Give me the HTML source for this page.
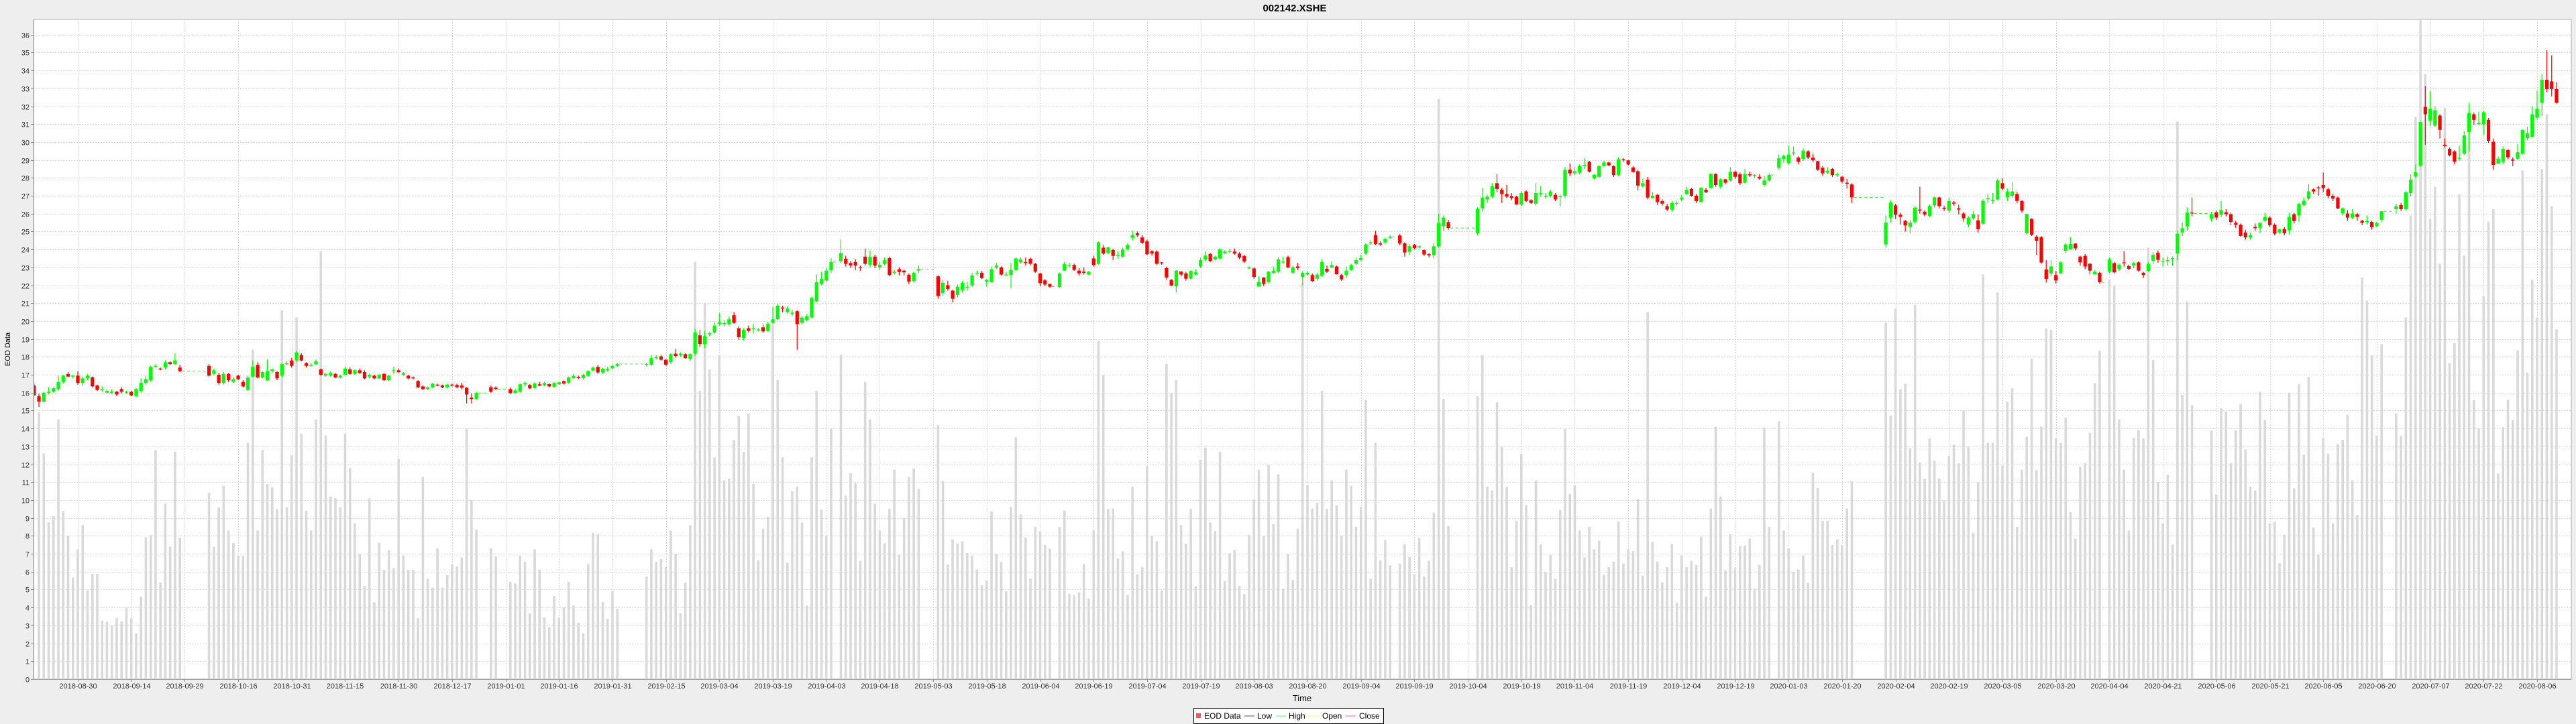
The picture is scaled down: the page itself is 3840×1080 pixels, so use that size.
<!DOCTYPE html>
<html>
<head>
<meta charset="utf-8">
<style>
html,body{margin:0;padding:0;background:#eeeeee;}
svg{display:block;font-family:"Liberation Sans",Arial,sans-serif;}
</style>
</head>
<body>
<svg id="chart" width="3840" height="1080" viewBox="0 0 3840 1080" xmlns="http://www.w3.org/2000/svg">
  <defs><clipPath id="plotClip"><rect x="50" y="29" width="3783" height="984"/></clipPath></defs>
  <rect x="0" y="0" width="3840" height="1080" fill="#eeeeee"/>
  <text x="1930" y="17" text-anchor="middle" font-size="15" font-weight="bold" fill="#000">002142.XSHE</text>
  <rect x="50" y="29" width="3783" height="984" fill="#ffffff" stroke="#b0b0b0" stroke-width="1"/>
  <g id="grid"></g>
  <g id="volumes" clip-path="url(#plotClip)"></g>
  <g id="gaps" clip-path="url(#plotClip)"></g>
  <g id="candles" clip-path="url(#plotClip)"></g>
  <g id="axes"></g>
  <text x="1941" y="1046" text-anchor="middle" font-size="13" fill="#000">Time</text>
  <text x="0" y="0" transform="translate(15,521) rotate(-90)" text-anchor="middle" font-size="11" fill="#000">EOD Data</text>
  <g>
    <rect x="1779.5" y="1056.5" width="283" height="23" fill="#ffffff" stroke="#000" stroke-width="1"/>
    <rect x="1783" y="1064" width="7" height="7" fill="#ff5555"/>
    <text x="1795" y="1072" font-size="12" fill="#000">EOD Data</text>
    <line x1="1855" y1="1068" x2="1870" y2="1068" stroke="#4444ff" stroke-width="1"/>
    <text x="1874" y="1072" font-size="12" fill="#000">Low</text>
    <line x1="1902" y1="1068" x2="1917" y2="1068" stroke="#55ff55" stroke-width="1"/>
    <text x="1921" y="1072" font-size="12" fill="#000">High</text>
    <line x1="1950" y1="1068" x2="1967" y2="1068" stroke="#ffff55" stroke-width="1"/>
    <text x="1971" y="1072" font-size="12" fill="#000">Open</text>
    <line x1="2006" y1="1068" x2="2021" y2="1068" stroke="#ff55ff" stroke-width="1"/>
    <text x="2026" y="1072" font-size="12" fill="#000">Close</text>
  </g>
</svg>
<script>
// ---- data ----
const closedDays = ["2018-10-01","2018-10-02","2018-10-03","2018-10-04","2018-10-05","2018-12-25","2018-12-26","2018-12-31","2019-01-01","2019-02-04","2019-02-05","2019-02-06","2019-02-07","2019-02-08","2019-04-05","2019-05-01","2019-05-02","2019-05-03","2019-06-07","2019-09-13","2019-10-01","2019-10-02","2019-10-03","2019-10-04","2019-10-07","2020-01-01","2020-01-24","2020-01-27","2020-01-28","2020-01-29","2020-01-30","2020-01-31","2020-04-06","2020-05-01","2020-05-04","2020-05-05","2020-06-25","2020-06-26"];
const firstDay = "2018-08-17";
const lastDay = "2020-08-13";
const tickLabels = ["2018-08-30","2018-09-14","2018-09-29","2018-10-16","2018-10-31","2018-11-15","2018-11-30","2018-12-17","2019-01-01","2019-01-16","2019-01-31","2019-02-15","2019-03-04","2019-03-19","2019-04-03","2019-04-18","2019-05-03","2019-05-18","2019-06-04","2019-06-19","2019-07-04","2019-07-19","2019-08-03","2019-08-20","2019-09-04","2019-09-19","2019-10-04","2019-10-19","2019-11-04","2019-11-19","2019-12-04","2019-12-19","2020-01-03","2020-01-20","2020-02-04","2020-02-19","2020-03-05","2020-03-20","2020-04-04","2020-04-21","2020-05-06","2020-05-21","2020-06-05","2020-06-20","2020-07-07","2020-07-22","2020-08-06"];
const yTicks = [0,1,2,3,4,5,6,7,8,9,10,11,12,13,14,15,16,17,18,19,20,21,22,23,24,25,26,27,28,29,30,31,32,33,34,35,36];

const opens = [
16.40,15.80,15.50,16.00,16.05,16.20,16.60,17.05,16.90,16.95,16.55,16.80,16.85,16.40,16.15,16.00,16.00,16.05,16.20,16.00,16.05,15.80,16.10,16.55,16.70,17.45,17.35,17.40,17.70,17.60,
17.40,17.50,17.05,17.00,16.55,17.05,16.60,16.95,16.60,16.15,16.90,17.55,16.85,16.70,17.20,17.15,16.95,17.60,17.80,17.80,18.10,17.65,17.50,17.60,17.30,16.95,16.95,17.05,16.85,17.00,17.30,17.05,17.25,17.15,16.90,16.95,16.80,17.05,16.70,17.20,17.25,17.00,16.95,16.85,16.65,16.35,16.20,16.30,16.45,16.40,16.30,16.45,16.43,16.40,16.28,15.72,15.65,
16.30,16.28,
16.20,15.98,16.05,16.48,16.43,16.26,16.47,16.41,16.48,16.33,16.48,16.64,16.56,16.81,16.87,16.81,16.94,17.24,17.44,17.13,17.24,17.36,17.50,
17.56,17.56,17.93,18.03,17.84,17.70,18.18,18.10,18.15,17.90,18.18,19.20,18.72,19.26,19.36,19.85,19.83,19.83,20.33,19.60,19.06,19.60,19.55,19.50,19.65,19.45,19.90,20.10,20.76,20.50,20.40,20.55,19.90,20.05,20.20,21.10,22.10,22.27,22.85,
23.34,23.48,23.24,23.30,23.00,23.60,23.15,23.60,23.00,23.20,23.52,22.70,22.90,22.82,22.59,22.23,22.82,
22.50,21.56,22.00,21.70,21.46,21.73,21.88,22.00,22.66,22.70,22.20,22.18,23.00,23.00,22.55,22.57,22.86,23.28,23.30,23.48,23.20,22.66,22.27,22.07,
21.90,22.82,23.10,23.13,22.82,22.76,22.60,23.50,23.20,24.10,23.80,23.97,23.64,23.60,24.00,24.65,24.90,24.67,24.45,23.90,23.88,23.28,22.96,22.30,21.94,22.76,22.66,22.37,22.60,23.05,23.44,23.75,23.44,23.50,23.80,23.86,23.88,23.77,23.64,22.94,22.94,21.94,22.43,22.18,22.70,22.76,23.28,23.57,22.70,23.05,22.47,22.60,22.57,22.37,22.53,22.92,23.00,23.05,22.57,22.57,22.86,23.20,23.42,23.77,24.35,24.80,24.34,24.40,24.65,
24.78,24.34,23.87,24.26,24.12,23.97,23.74,23.68,24.18,25.30,25.53,
24.90,26.30,26.80,26.95,27.70,27.34,27.10,26.98,26.95,26.50,27.24,26.75,26.56,27.10,26.95,26.98,27.05,26.95,27.00,28.46,28.25,28.30,28.66,28.90,27.97,28.06,28.66,28.86,28.66,28.16,29.04,28.98,28.58,28.37,27.53,27.90,26.87,27.05,26.70,26.42,26.23,26.56,26.79,27.10,27.38,27.00,26.66,27.34,27.44,28.22,27.50,27.92,27.86,28.34,28.20,27.73,28.20,28.12,28.06,27.60,27.86,
28.56,29.05,28.82,29.38,29.14,29.05,29.48,29.13,28.93,28.56,28.30,28.50,28.16,28.06,27.73,27.63,
24.28,25.78,26.46,25.94,25.59,25.26,25.55,26.23,26.11,25.88,26.46,26.91,26.33,26.17,26.62,26.30,26.01,25.40,25.74,25.63,25.44,26.82,26.71,26.79,27.70,26.91,27.00,27.10,26.71,24.90,25.70,24.72,24.69,22.88,22.66,22.57,22.66,23.93,24.00,24.33,23.60,23.64,23.20,22.62,22.70,
22.76,23.24,22.90,23.28,23.08,23.13,23.28,22.70,22.80,23.37,23.82,23.35,23.35,23.47,23.77,24.95,25.30,26.06,
25.71,26.08,25.94,26.08,25.97,25.49,25.38,24.95,24.67,25.26,25.19,25.61,25.78,25.38,24.95,25.14,25.07,25.97,25.90,26.48,26.84,27.36,27.47,27.60,27.36,27.00,26.90,26.01,26.01,25.78,25.97,25.61,25.54,25.54,25.30,25.66,
26.25,26.48,26.25,27.14,28.09,28.67,31.97,31.20,30.91,31.48,29.85,29.62,29.48,29.07,29.36,30.56,31.55,31.01,31.01,31.24,30.02,28.79,28.89,29.55,29.03,29.07,29.36,30.21,30.30,31.36,32.19,33.48,33.39,32.96];

const closes = [
15.85,15.50,16.00,16.05,16.25,16.60,16.95,16.90,16.95,16.55,16.80,16.95,16.35,16.15,16.20,16.10,16.05,15.90,16.05,16.05,15.85,16.20,16.55,16.75,17.45,17.50,17.30,17.70,17.60,17.80,
17.20,16.95,17.25,16.55,17.05,16.70,16.75,16.75,16.35,16.85,17.45,16.85,17.15,17.20,17.30,16.80,17.60,17.65,17.50,18.25,17.80,17.50,17.55,17.75,17.00,17.05,17.10,16.85,16.95,17.35,17.05,17.25,17.10,16.80,17.00,16.80,17.00,16.70,16.95,17.25,17.15,17.10,16.80,16.80,16.30,16.20,16.30,16.50,16.40,16.30,16.45,16.40,16.30,16.28,15.90,15.65,15.98,
16.05,16.20,
15.98,16.13,16.47,16.54,16.24,16.51,16.40,16.54,16.35,16.54,16.58,16.51,16.85,16.94,16.81,17.00,17.20,17.40,17.13,17.34,17.32,17.50,17.60,
17.60,17.93,17.99,17.84,17.56,18.15,18.05,18.18,17.93,18.15,19.36,18.72,19.16,19.32,19.75,19.94,19.89,20.10,19.90,19.10,19.50,19.45,19.59,19.53,19.42,19.85,20.10,20.86,20.70,20.70,20.47,19.83,20.20,20.27,21.30,22.17,22.35,22.82,23.30,
23.80,23.20,23.10,23.10,22.97,23.20,23.60,23.10,23.15,23.40,22.57,22.76,22.74,22.72,22.20,22.70,22.90,
21.40,22.14,21.80,21.25,21.92,22.14,21.92,22.55,22.70,22.40,22.30,22.90,23.10,22.60,22.60,22.86,23.50,23.44,23.24,23.20,22.76,22.12,22.04,21.92,
22.66,23.20,23.13,22.86,22.66,22.70,22.76,23.13,24.40,23.77,24.12,23.64,23.68,23.99,24.26,24.80,24.80,24.38,23.73,23.77,23.20,23.24,22.43,21.98,22.82,22.60,22.37,22.80,22.72,23.40,23.66,23.36,23.60,24.00,23.88,23.90,23.77,23.54,23.32,23.00,22.47,22.18,22.08,22.76,22.80,23.44,23.32,23.00,23.00,22.96,22.70,22.70,22.24,22.60,23.30,22.76,23.13,22.62,22.33,22.82,23.13,23.40,23.52,24.28,24.40,24.30,24.28,24.60,24.70,
24.34,23.83,24.18,24.07,24.18,23.72,23.68,24.18,25.48,25.78,25.20,
26.27,26.90,26.95,27.53,27.38,27.10,26.95,26.87,26.52,27.15,26.71,26.60,27.15,27.15,26.98,27.24,26.80,26.98,28.44,28.25,28.37,28.66,28.72,28.35,28.18,28.66,28.86,28.70,28.16,29.04,29.00,28.75,28.33,27.57,27.70,26.90,27.00,26.66,26.56,26.23,26.60,26.60,26.90,27.34,27.00,26.70,27.44,27.20,28.22,27.60,27.92,27.73,28.34,28.06,27.70,28.20,28.14,28.16,27.96,27.86,28.16,
29.09,29.23,29.30,29.42,28.90,29.52,29.14,28.99,28.46,28.25,28.40,28.16,28.20,27.80,27.67,26.91,
25.50,26.62,25.94,25.82,25.34,25.50,26.33,26.17,25.94,26.42,26.91,26.42,26.27,26.71,26.56,26.23,25.74,25.78,25.98,25.13,26.71,26.86,26.75,27.86,27.40,27.24,27.24,26.71,26.17,25.98,24.82,24.48,23.27,22.36,23.05,22.27,23.28,24.28,24.30,24.06,23.28,23.05,22.82,22.76,22.17,
23.44,22.72,23.15,23.24,22.92,23.24,22.82,22.57,23.20,23.70,23.42,23.37,23.40,23.52,24.88,25.19,26.06,26.01,
25.97,25.78,26.20,25.97,25.54,25.38,24.76,24.67,24.79,25.19,25.49,25.82,25.35,24.88,25.14,24.90,25.82,25.59,26.55,26.72,27.24,27.24,27.43,27.43,27.00,26.84,26.30,26.30,25.78,26.01,25.82,25.49,25.59,25.24,25.49,26.13,
26.41,26.25,27.19,27.90,28.32,31.12,31.55,31.86,31.78,30.68,29.78,29.26,28.91,29.12,30.37,31.62,31.24,31.08,31.67,30.07,28.72,29.07,29.62,29.15,28.96,29.43,30.68,30.49,31.55,31.86,33.48,32.96,32.96,32.19];

const highs = [
16.50,15.95,16.05,16.30,16.30,16.95,17.00,17.15,17.00,17.20,16.90,17.05,16.90,16.45,16.35,16.20,16.20,16.10,16.30,16.10,16.10,16.25,16.80,16.95,17.50,17.60,17.40,17.80,17.75,18.20,
17.55,17.60,17.35,17.10,17.15,17.10,16.85,17.00,16.70,16.95,17.80,17.70,17.20,17.85,17.35,17.20,17.65,17.75,17.95,18.35,18.20,17.70,17.65,17.85,17.35,17.10,17.20,17.10,17.00,17.45,17.40,17.30,17.35,17.25,17.05,17.00,17.05,17.10,17.00,17.45,17.35,17.15,17.00,16.90,16.70,16.40,16.35,16.55,16.50,16.45,16.50,16.50,16.50,16.55,16.30,15.95,16.05,
16.40,16.35,
16.30,16.20,16.52,16.62,16.48,16.58,16.60,16.60,16.52,16.60,16.62,16.68,16.90,17.05,16.95,17.05,17.25,17.45,17.55,17.38,17.45,17.55,17.68,
17.65,18.10,18.10,18.10,17.88,18.20,18.45,18.25,18.20,18.20,19.55,19.50,19.45,19.40,19.95,20.45,20.05,20.25,20.50,19.70,19.60,19.75,19.85,19.62,19.80,19.95,20.80,20.95,20.85,20.85,20.62,20.60,20.30,20.40,21.35,22.60,22.75,22.95,23.50,
24.55,23.65,23.35,23.45,23.10,24.05,23.95,23.70,23.30,23.55,23.60,22.85,23.00,22.88,22.65,22.75,23.10,
22.55,22.30,22.25,21.75,22.05,22.25,22.20,22.70,22.82,22.80,22.35,23.05,23.25,23.05,22.75,23.25,23.55,23.55,23.55,23.55,23.25,22.70,22.35,22.10,
22.70,23.30,23.25,23.20,22.95,23.00,22.80,23.65,24.45,24.25,24.15,24.05,23.90,24.10,24.35,25.05,25.00,24.80,24.55,23.95,23.95,23.30,23.05,22.35,22.85,22.80,22.75,22.85,22.90,23.55,23.90,23.80,23.65,24.05,23.95,24.05,24.05,23.85,23.70,23.05,23.00,22.50,22.45,22.80,23.05,23.55,23.60,23.65,23.10,23.25,22.80,22.80,22.65,22.70,23.45,23.10,23.35,23.10,22.65,23.05,23.20,23.55,23.70,24.35,24.50,25.05,24.45,24.65,24.80,
24.85,24.40,24.30,24.30,24.25,24.00,23.80,24.35,26.00,25.90,25.65,
26.35,27.45,27.05,27.70,28.20,27.45,27.60,27.15,27.00,27.25,27.30,26.80,27.70,27.55,27.15,27.35,27.15,27.05,28.60,28.80,28.60,28.75,29.10,28.95,28.20,28.70,28.95,28.90,28.70,29.15,29.10,29.00,28.65,28.45,27.95,28.05,27.20,27.10,26.80,26.55,26.70,26.70,27.05,27.50,27.45,27.10,27.50,27.45,28.25,28.25,28.00,27.95,28.60,28.40,28.30,28.50,28.35,28.20,28.20,28.10,28.25,
29.30,29.30,29.80,29.75,29.20,29.65,29.55,29.35,28.95,28.65,28.60,28.55,28.30,28.10,27.95,27.70,
25.90,26.75,26.55,26.05,25.65,25.65,26.40,27.50,26.20,26.50,26.95,26.95,26.45,26.90,26.70,26.50,26.10,25.85,26.15,25.95,26.80,27.10,27.15,27.95,28.00,27.40,27.75,27.20,26.75,26.00,25.75,24.80,24.75,23.40,23.40,22.80,23.35,24.35,24.70,24.35,23.65,23.75,23.25,22.85,22.75,
23.55,23.30,23.20,23.90,23.15,23.30,23.35,22.75,23.30,23.85,23.95,23.55,23.60,23.60,25.05,25.50,26.35,26.90,
26.10,26.15,26.70,26.25,26.05,25.60,25.45,25.10,24.95,25.45,25.30,26.05,25.85,25.45,25.10,25.25,26.05,26.05,26.60,26.90,27.65,27.40,27.55,28.30,27.45,27.10,26.95,26.35,26.20,26.25,26.05,25.65,25.90,25.60,25.55,26.15,
26.55,26.60,27.25,28.20,28.75,31.15,33.13,32.85,32.00,31.55,30.20,29.70,29.55,29.80,30.60,32.20,31.65,31.70,31.75,31.35,30.20,29.20,29.75,29.60,29.15,29.90,30.70,30.85,32.00,32.85,33.80,35.13,34.85,33.35];

const lows = [
15.80,15.20,15.45,15.90,16.00,16.10,16.50,16.85,16.80,16.45,16.40,16.70,16.30,16.10,16.05,15.95,15.90,15.80,15.95,15.95,15.80,15.75,16.00,16.45,16.60,17.40,17.25,17.30,17.55,17.55,
17.15,16.90,16.95,16.45,16.45,16.60,16.55,16.70,16.30,16.10,16.85,16.80,16.80,16.65,17.10,16.70,16.85,17.55,17.40,17.70,17.75,17.40,17.45,17.55,16.95,16.90,16.90,16.80,16.80,16.95,17.00,17.00,17.05,16.75,16.80,16.75,16.75,16.65,16.65,17.05,17.10,16.95,16.75,16.75,16.25,16.15,16.15,16.25,16.35,16.25,16.25,16.35,16.25,16.20,15.40,15.40,15.60,
16.00,16.15,
15.92,15.95,16.00,16.35,16.20,16.22,16.36,16.36,16.30,16.30,16.44,16.46,16.50,16.76,16.76,16.75,16.90,17.18,17.05,17.05,17.18,17.32,17.45,
17.45,17.50,17.85,17.80,17.50,17.60,17.95,18.00,17.88,17.78,18.05,18.55,18.50,19.15,19.30,19.75,19.70,19.75,19.85,18.95,18.90,19.35,19.30,19.45,19.35,19.40,19.85,20.05,20.50,20.40,20.30,18.40,19.80,20.00,20.15,21.05,22.00,22.20,22.70,
23.25,23.05,22.95,22.85,22.80,23.10,23.00,22.95,22.85,23.10,22.50,22.60,22.55,22.55,22.05,22.15,22.70,
21.25,21.40,21.70,21.05,21.30,21.60,21.70,21.90,22.55,22.35,21.90,22.15,22.90,22.55,22.50,21.85,22.80,23.20,23.10,23.10,22.70,21.95,21.95,21.85,
21.85,22.80,23.00,22.80,22.55,22.60,22.55,23.05,23.15,23.70,23.75,23.40,23.50,23.55,23.95,24.50,24.70,24.30,23.70,23.65,23.15,23.15,22.30,21.95,21.60,22.50,22.25,22.30,22.55,22.95,23.35,23.30,23.40,23.45,23.75,23.80,23.70,23.45,23.25,22.90,22.35,21.95,21.95,22.10,22.65,22.70,23.20,22.95,22.65,22.85,22.00,22.55,22.20,22.25,22.45,22.70,22.95,22.60,22.25,22.40,22.80,23.10,23.35,23.70,24.25,24.25,24.20,24.30,24.60,
24.25,23.60,23.70,24.00,24.05,23.65,23.55,23.50,24.10,25.05,25.10,
24.80,26.10,26.60,26.85,27.20,26.60,26.85,26.75,26.50,26.40,26.65,26.55,26.45,26.95,26.85,26.90,26.70,26.40,26.90,28.10,28.15,28.20,28.50,28.30,27.90,28.00,28.60,28.65,28.05,28.10,28.90,28.70,28.30,27.30,27.45,26.80,26.85,26.50,26.45,26.15,26.10,26.45,26.70,27.05,26.95,26.60,26.60,27.15,27.40,27.50,27.40,27.65,27.80,27.95,27.60,27.70,28.05,28.00,27.90,27.50,27.80,
28.45,28.85,28.75,29.25,28.75,28.95,29.05,28.90,28.40,28.10,28.20,28.05,28.05,27.70,27.40,26.60,
24.10,25.50,25.70,25.40,25.00,24.90,25.45,26.00,25.85,25.80,26.35,26.30,26.15,26.05,26.45,25.95,25.55,25.25,25.65,24.95,25.40,26.60,26.55,26.75,27.30,26.70,26.90,26.60,26.05,24.85,24.75,23.70,23.20,22.15,22.50,22.10,22.65,23.80,24.00,23.95,23.10,22.90,22.60,22.60,22.10,
22.70,22.65,22.80,23.05,22.85,22.95,22.75,22.40,22.75,23.20,23.25,23.05,23.10,23.10,23.40,24.75,25.05,25.85,
25.55,25.65,25.80,25.85,25.35,25.20,24.70,24.55,24.55,25.05,24.90,25.55,25.25,24.80,24.85,24.80,24.85,25.45,25.55,26.40,26.75,27.10,27.00,27.20,26.85,26.70,26.25,25.90,25.60,25.70,25.60,25.35,25.40,25.10,25.25,25.55,
26.00,26.15,26.20,26.95,28.00,28.60,29.85,30.90,30.85,30.20,29.70,29.20,28.75,28.95,29.30,29.45,30.95,30.95,30.40,29.95,28.45,28.90,28.75,29.05,28.65,29.00,29.30,30.10,30.25,31.25,31.45,32.80,32.55,32.15];

const volumes = [
0,14.9,12.6,8.75,9.1,14.5,9.4,8.0,5.67,7.25,8.6,4.95,5.88,5.88,3.26,3.2,3.0,3.42,3.22,3.99,3.4,2.55,4.6,7.93,8.04,12.8,5.4,9.8,7.4,12.7,
7.9,10.4,7.4,9.6,10.8,8.3,7.6,6.9,6.9,13.2,18.4,8.3,12.8,10.9,10.7,9.5,20.6,9.6,12.5,20.2,13.7,9.4,8.3,14.5,23.9,13.6,10.2,10.1,9.6,13.7,11.8,8.7,7.0,5.2,10.1,4.3,7.6,6.1,7.2,6.2,12.3,6.9,6.1,6.1,3.4,11.3,5.6,5.1,7.3,5.1,5.8,6.4,6.3,6.8,14.0,10.0,8.35,
7.3,6.85,
5.43,5.34,6.9,6.55,3.68,7.25,6.12,3.45,2.9,4.64,3.43,4.0,5.43,4.1,3.16,2.56,6.4,8.16,8.1,4.3,3.37,4.93,3.92,
5.73,7.25,6.55,6.7,6.27,8.3,7.0,3.68,5.38,8.6,23.3,16.1,21.0,17.3,12.36,18.1,11.1,11.2,13.36,14.7,12.7,14.83,10.9,6.65,8.4,9.07,19.8,16.7,12.4,6.5,10.5,10.75,8.75,4.1,12.4,16.1,9.47,8.0,14.0,
18.1,10.25,11.5,10.95,6.6,16.6,14.5,9.8,8.3,7.58,9.5,11.7,6.94,9.0,11.28,11.76,10.63,
14.2,11.06,6.4,7.8,7.58,7.7,7.03,6.9,6.12,5.24,5.5,9.36,7.0,6.55,4.9,9.62,13.5,9.2,7.9,5.63,8.5,8.26,7.48,7.28,
8.5,9.42,4.75,4.69,4.85,6.44,4.5,8.3,18.9,16.98,9.5,9.53,6.74,7.13,4.7,10.75,5.86,6.25,11.9,8.0,7.7,4.95,17.6,15.95,16.7,8.6,7.56,9.5,5.18,12.25,12.93,8.75,8.26,12.7,5.47,7.03,7.22,5.2,4.75,8.06,10.04,11.7,8.0,11.99,8.65,11.43,5.05,7.0,5.53,8.4,22.1,10.83,9.53,9.85,16.1,9.5,11.1,9.7,8.03,11.7,10.8,8.5,9.62,15.6,5.6,13.2,6.65,7.77,6.35,
6.45,7.53,6.83,5.86,7.87,5.73,6.6,9.3,32.4,15.65,8.55,
15.8,18.1,10.75,10.54,15.46,13.0,10.75,6.25,8.84,12.58,9.72,4.12,11.1,7.53,5.98,6.94,5.6,9.45,13.97,10.34,10.83,8.3,6.8,8.5,7.25,7.73,5.82,6.25,6.56,8.8,6.46,7.25,7.15,10.07,5.77,20.5,7.67,6.56,5.4,6.25,7.53,4.26,6.9,6.25,6.6,6.37,7.96,4.61,9.53,14.1,10.2,6.08,8.1,6.2,7.42,7.46,7.85,5.05,6.37,14.05,8.5,
14.4,8.3,7.3,6.0,6.12,6.9,5.38,11.53,10.68,8.84,8.84,7.5,7.8,7.5,9.53,11.07,
19.9,14.7,20.7,16.2,16.5,12.9,20.9,12.1,11.2,13.45,12.2,11.2,9.95,12.48,13.1,12.05,15.0,13.0,8.16,11.0,22.6,13.2,13.2,21.6,11.92,15.5,16.24,8.5,11.7,13.54,17.9,11.67,14.1,19.6,19.5,13.47,13.2,14.6,9.33,7.85,11.86,12.05,13.76,16.53,18.34,
22.33,22.0,14.5,11.7,8.3,13.47,13.9,13.45,24.1,17.82,11.01,8.7,11.41,7.53,31.15,15.89,21.1,15.3,
13.88,10.3,15.13,14.95,12.05,13.88,15.37,12.83,10.75,10.54,16.05,14.48,8.7,8.77,6.47,8.07,16.0,10.66,16.48,12.54,16.88,8.47,6.94,13.48,12.59,8.7,13.13,13.37,14.76,11.1,9.17,22.43,21.14,18.08,13.6,18.71,
14.83,13.58,20.2,25.9,31.4,37.5,33.8,25.7,27.5,23.2,31.9,17.65,18.76,27.08,23.66,31.48,15.58,14.0,21.4,25.55,26.25,11.48,14.07,15.6,14.48,18.36,28.42,17.12,22.29,20.2,28.49,31.55,26.42,19.54];

// ---- axes ----
const NS = "http://www.w3.org/2000/svg";
const plot = {left:50, top:29, right:3833, bottom:1013};
const yMax = 36.85;
const slotMin = -0.11, slotMax = 522.04;
function xScale(slot){ return plot.left + (slot - slotMin)/(slotMax - slotMin)*(plot.right - plot.left); }
function yScale(v){ return plot.bottom - v/yMax*(plot.bottom - plot.top); }
function mk(tag, attrs, parent){ const e=document.createElementNS(NS,tag); for(const k in attrs) e.setAttribute(k,attrs[k]); parent.appendChild(e); return e; }
function parseD(s){ const p=s.split('-'); return Date.UTC(+p[0],+p[1]-1,+p[2]); }
function fmt(t){ const d=new Date(t); return d.getUTCFullYear()+'-'+String(d.getUTCMonth()+1).padStart(2,'0')+'-'+String(d.getUTCDate()).padStart(2,'0'); }

// trading-day slots on a Mon-Fri timeline
const closedSet = new Set(closedDays);
const tradeSlots = [];
{
  let slot = 0; const end = parseD(lastDay);
  for(let t=parseD(firstDay); t<=end; t+=86400000){
    const wd = new Date(t).getUTCDay();
    if(wd===0||wd===6) continue;
    if(!closedSet.has(fmt(t))) tradeSlots.push(slot);
    slot++;
  }
}

const grid = document.getElementById('grid');
const axes = document.getElementById('axes');
yTicks.forEach(v=>{
  const y = Math.round(yScale(v))+0.5;
  const gl = mk('line',{x1:plot.left,x2:plot.right,y1:y,y2:y,stroke:'#d8d8d8','stroke-width':1,'stroke-dasharray':'2,2'},grid);
  
  
  const tk = mk('line',{x1:46,x2:50,y1:y,y2:y,stroke:'#888','stroke-width':1},axes);
  
  
  const lb = mk('text',{x:44,y:y+4,'text-anchor':'end','font-size':11,fill:'#333'},axes);
  lb.textContent = v;
  
  
});
tickLabels.forEach((lab,k)=>{
  const x = Math.round(xScale(9+11*k))+0.5;
  const gl = mk('line',{x1:x,x2:x,y1:plot.top,y2:plot.bottom,stroke:'#d8d8d8','stroke-width':1,'stroke-dasharray':'2,2'},grid);
  
  
  const tk = mk('line',{x1:x,x2:x,y1:plot.bottom,y2:plot.bottom+4,stroke:'#888','stroke-width':1},axes);
  
  
  const lb = mk('text',{x:x,y:1027,'text-anchor':'middle','font-size':11,fill:'#333'},axes);
  lb.textContent = lab;
  
  
});
const ax1 = mk('line',{x1:plot.left+0.5,x2:plot.left+0.5,y1:plot.top,y2:plot.bottom,stroke:'#999','stroke-width':1},axes);


const ax2 = mk('line',{x1:plot.left,x2:plot.right,y1:plot.bottom+0.5,y2:plot.bottom+0.5,stroke:'#999','stroke-width':1},axes);



// ---- marks ----
const n = Math.min(tradeSlots.length, opens.length, closes.length, highs.length, lows.length, volumes.length);
const volG = document.getElementById('volumes');
const candG = document.getElementById('candles');
const gapG = document.getElementById('gaps');
for(let i=0;i<n;i++){
  const x = xScale(tradeSlots[i]);
  const vTop = yScale(volumes[i]);
  const vb = mk('rect',{x:(x-1.8).toFixed(2),y:vTop.toFixed(2),width:3.6,height:Math.max(0,plot.bottom-vTop).toFixed(2),fill:'#d9d9d9'},volG);
  
  

  const up = closes[i] >= opens[i];
  const col = up ? '#00ff00' : '#ff0000';
  const wick = mk('line',{x1:x.toFixed(2),x2:x.toFixed(2),y1:yScale(highs[i]).toFixed(2),y2:yScale(lows[i]).toFixed(2),stroke:col,'stroke-width':1.2},candG);
  
  
  const yT = yScale(Math.max(opens[i],closes[i])), yB = yScale(Math.min(opens[i],closes[i]));
  const body = mk('rect',{x:(x-2.6).toFixed(2),y:yT.toFixed(2),width:5.2,height:Math.max(1.2,yB-yT).toFixed(2),fill:col},candG);
  
  

  if(i>0 && tradeSlots[i]-tradeSlots[i-1]>1){
    const yc = yScale(closes[i-1]);
    const gl = mk('line',{x1:(xScale(tradeSlots[i-1])+3).toFixed(2),x2:(x-3).toFixed(2),y1:yc.toFixed(2),y2:yc.toFixed(2),stroke:'#33ee33','stroke-width':1,'stroke-dasharray':'4,4'},gapG);
    
    
  }
}
</script>
</body>
</html>
